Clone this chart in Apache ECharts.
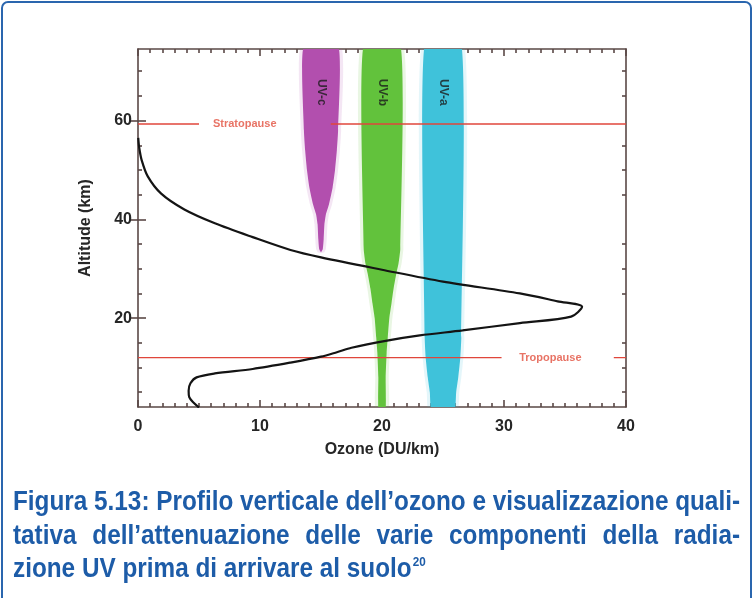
<!DOCTYPE html>
<html>
<head>
<meta charset="utf-8">
<title>Profilo verticale dell'ozono</title>
<script src="https://cdn.jsdelivr.net/npm/echarts@6.0.0/dist/echarts.min.js"></script>
<style>
  html, body { margin: 0; padding: 0; background: #ffffff; }
  #main { width: 754px; height: 598px; }
</style>
</head>
<body>
<div id="main"></div>
<script>
// profilo dell'ozono: quota (km) e densita (DU/km)
const ozoneAlt = [56.5, 54.5, 52, 48.7, 45.2, 42, 39.2, 36.4, 33.8, 32.3, 29.8, 27.4, 25, 23.4, 22.3,
  20.3, 19.0, 17.5, 16.5, 15.4, 14.0, 13.1, 12.2, 11.0, 9.7, 8.8, 8.0, 6.8, 5.3, 4.0, 3.0, 1.9];
const ozoneVal = [0.02, 0.1, 0.3, 0.8, 1.9, 3.8, 6.3, 9.4, 12.5, 15, 20, 25, 31.3, 34.4, 36.4,
  35.5, 31.3, 26.6, 23.1, 20.3, 17.5, 16.3, 15.0, 12.5, 9.4, 6.3, 4.8, 4.3, 4.15, 4.2, 4.5, 5.0];

// bande UV: centro, quote e semi-larghezze (DU/km)
const uvNames = ['UV-c', 'UV-b', 'UV-a'];
const uvCenters = [15, 20, 25];
const uvColors = ['#b24fae', '#62c23c', '#3fc2da'];
const uvcAlt = [75, 58, 54, 50, 46.4, 43, 41, 39, 36, 34, 33.3];
const uvcHalf = [1.42, 1.40, 1.3, 1.15, 0.95, 0.65, 0.4, 0.28, 0.22, 0.15, 0];
const uvbAlt = [75, 34, 31, 29, 26, 23, 20, 16, 13, 8, 1];
const uvbHalf = [1.53, 1.5, 1.35, 1.17, 0.95, 0.78, 0.6, 0.47, 0.38, 0.3, 0.28];
const uvaAlt = [75, 16, 12, 8, 5, 1];
const uvaHalf = [1.53, 1.5, 1.42, 1.25, 1.08, 0.92];
const uvLabelKm = 65.7;

// stratopausa e tropopausa
const stratKm = 59.3;
const stratSegments = [[0, 5.0], [15.8, 40]];
const stratLabelX = 8.75;
const tropKm = 12.0;
const tropSegments = [[0, 29.8], [39.0, 40]];
const tropLabelX = 33.8;

// assi
const xMin = 0, xMax = 40, xStep = 10;
const yMin = 2, yMax = 74.5;
const yLabels = [20, 40, 60];
const yMinor = [5, 10, 15, 25, 30, 35, 45, 50, 55, 65, 70];

const captionLines = [
  'Figura 5.13: Profilo verticale dell’ozono e visualizzazione quali-',
  'tativa dell’attenuazione delle varie componenti della radia-',
  'zione UV prima di arrivare al suolo'
];
const captionNote = '20';

const chart = echarts.init(document.getElementById('main'), null, { renderer: 'canvas' });

const axisFont = '"Liberation Sans", Arial, sans-serif';
const frame = { color: '#5a4846', width: 1.6 };

function bandSeries(i, alts, halfs, grow, opacity) {
  const c = uvCenters[i];
  return {
    type: 'custom',
    name: uvNames[i],
    data: [0],
    silent: true,
    clip: true,
    z: 1,
    renderItem: function (params, api) {
      const pts = [];
      for (let k = 0; k < alts.length; k++) {
        pts.push(api.coord([c - halfs[k] - grow, alts[k]]));
      }
      for (let k = alts.length - 1; k >= 0; k--) {
        pts.push(api.coord([c + halfs[k] + grow, alts[k]]));
      }
      return {
        type: 'polygon',
        shape: { points: pts, smooth: 0.15 },
        style: { fill: uvColors[i], opacity: opacity }
      };
    }
  };
}

function redLine(km, segs) {
  return segs.map(function (s) {
    return {
      type: 'line', silent: true, symbol: 'none', z: 3,
      data: [[s[0], km], [s[1], km]],
      lineStyle: { color: '#e0463b', width: 1.4 }
    };
  });
}

const bands = [[uvcAlt, uvcHalf], [uvbAlt, uvbHalf], [uvaAlt, uvaHalf]];
let series = [];
bands.forEach(function (b, i) {
  series.push(bandSeries(i, b[0], b[1], 0.25, 0.14));
  series.push(bandSeries(i, b[0], b[1], 0, 1));
});
series = series.concat(redLine(stratKm, stratSegments), redLine(tropKm, tropSegments));

series.push({
  type: 'scatter', silent: true, symbolSize: 1, z: 4,
  itemStyle: { color: 'transparent' },
  data: [
    { name: 'Stratopause', value: [stratLabelX, stratKm] },
    { name: 'Tropopause', value: [tropLabelX, tropKm] }
  ],
  label: {
    show: true, position: 'inside', formatter: '{b}',
    color: '#e2503f', fontSize: 11, fontWeight: 'bold', fontFamily: axisFont
  }
});

series.push({
  type: 'scatter', silent: true, symbolSize: 1, z: 4,
  itemStyle: { color: 'transparent' },
  data: uvNames.map(function (n, i) { return { name: n, value: [uvCenters[i], uvLabelKm] }; }),
  label: {
    show: true, position: 'inside', rotate: -90, formatter: '{b}',
    color: '#1c1c1c', fontSize: 12, fontWeight: 'bold', fontFamily: axisFont
  }
});

series.push({
  type: 'line', name: 'Ozone', silent: true, symbol: 'none', smooth: 0.3, z: 5,
  data: ozoneVal.map(function (v, i) { return [v, ozoneAlt[i]]; }),
  lineStyle: { color: '#141414', width: 2.2 }
});

// didascalia giustificata, carattere compresso orizzontalmente
function caption() {
  const ctx = document.createElement('canvas').getContext('2d');
  const family = '"Liberation Sans", Arial, sans-serif';
  const left = 13, right = 740, ys = [503, 537, 570];
  const font = 'bold 27px ' + family;
  ctx.font = font;
  const sx = Math.min(1, (right - left) / ctx.measureText(captionLines[0]).width);
  const fill = '#1d5ca8';
  const out = [];
  function word(text, x, y, f) {
    return { type: 'text', x: x, y: y, scaleX: sx, style: { text: text, font: f || font, fill: fill, textVerticalAlign: 'middle' } };
  }
  captionLines.forEach(function (line, i) {
    if (i < 2) {
      const words = line.split(' ');
      const widths = words.map(function (w) { return ctx.measureText(w).width * sx; });
      const total = widths.reduce(function (a, b) { return a + b; }, 0);
      const gap = (right - left - total) / (words.length - 1);
      let x = left;
      words.forEach(function (w, k) {
        out.push(word(w, x, ys[i]));
        x += widths[k] + gap;
      });
    } else {
      out.push(word(line, left, ys[i]));
      const lw = ctx.measureText(line).width * sx;
      out.push(word(captionNote, left + lw + 1, ys[i] - 8, 'bold 13px ' + family));
    }
  });
  return out;
}

const graphics = [{
  type: 'rect', z: 100, silent: true,
  shape: { x: 2, y: 2, width: 749, height: 640, r: 6 },
  style: { fill: 'none', stroke: '#2a66ae', lineWidth: 2 }
}].concat(caption());

const labelStyle = { color: '#262626', fontSize: 16, fontWeight: 'bold', fontFamily: axisFont };

const option = {
  backgroundColor: '#ffffff',
  animation: false,
  grid: { left: 138, right: 128, top: 49, bottom: 191 },
  xAxis: [{
    type: 'value', position: 'bottom', min: xMin, max: xMax, interval: xStep,
    axisLine: { show: true, onZero: false, lineStyle: frame },
    axisTick: { show: true, inside: true, length: 7, lineStyle: frame },
    minorTick: { show: true, splitNumber: 10, length: 4, lineStyle: frame },
    splitLine: { show: false },
    axisLabel: Object.assign({ margin: 12 }, labelStyle),
    name: 'Ozone (DU/km)', nameLocation: 'middle', nameGap: 35,
    nameTextStyle: { color: '#262626', fontSize: 16, fontWeight: 'bold', fontFamily: axisFont }
  }, {
    type: 'value', position: 'top', min: xMin, max: xMax, interval: xStep,
    axisLine: { show: true, onZero: false, lineStyle: frame },
    axisTick: { show: true, inside: true, length: 7, lineStyle: frame },
    minorTick: { show: true, splitNumber: 10, length: 4, lineStyle: frame },
    splitLine: { show: false },
    axisLabel: { show: false }
  }],
  yAxis: [{
    type: 'value', position: 'left', min: yMin, max: yMax,
    axisLine: { show: true, onZero: false, lineStyle: frame },
    axisTick: { show: true, inside: true, length: 4, customValues: yMinor, lineStyle: frame },
    splitLine: { show: false },
    axisLabel: Object.assign({ margin: 6, customValues: yLabels }, labelStyle),
    name: 'Altitude (km)', nameLocation: 'middle', nameGap: 44,
    nameTextStyle: { color: '#262626', fontSize: 16, fontWeight: 'bold', fontFamily: axisFont }
  }, {
    type: 'value', position: 'left', min: yMin, max: yMax,
    axisLine: { show: false },
    axisTick: { show: true, inside: true, length: 8, customValues: yLabels, lineStyle: frame },
    splitLine: { show: false },
    axisLabel: { show: false }
  }, {
    type: 'value', position: 'right', min: yMin, max: yMax,
    axisLine: { show: true, onZero: false, lineStyle: frame },
    axisTick: { show: true, inside: true, length: 4, customValues: yMinor, lineStyle: frame },
    splitLine: { show: false },
    axisLabel: { show: false }
  }, {
    type: 'value', position: 'right', min: yMin, max: yMax,
    axisLine: { show: false },
    axisTick: { show: true, inside: true, length: 8, customValues: yLabels, lineStyle: frame },
    splitLine: { show: false },
    axisLabel: { show: false }
  }],
  graphic: graphics,
  series: series
};

chart.setOption(option);
</script>
</body>
</html>
